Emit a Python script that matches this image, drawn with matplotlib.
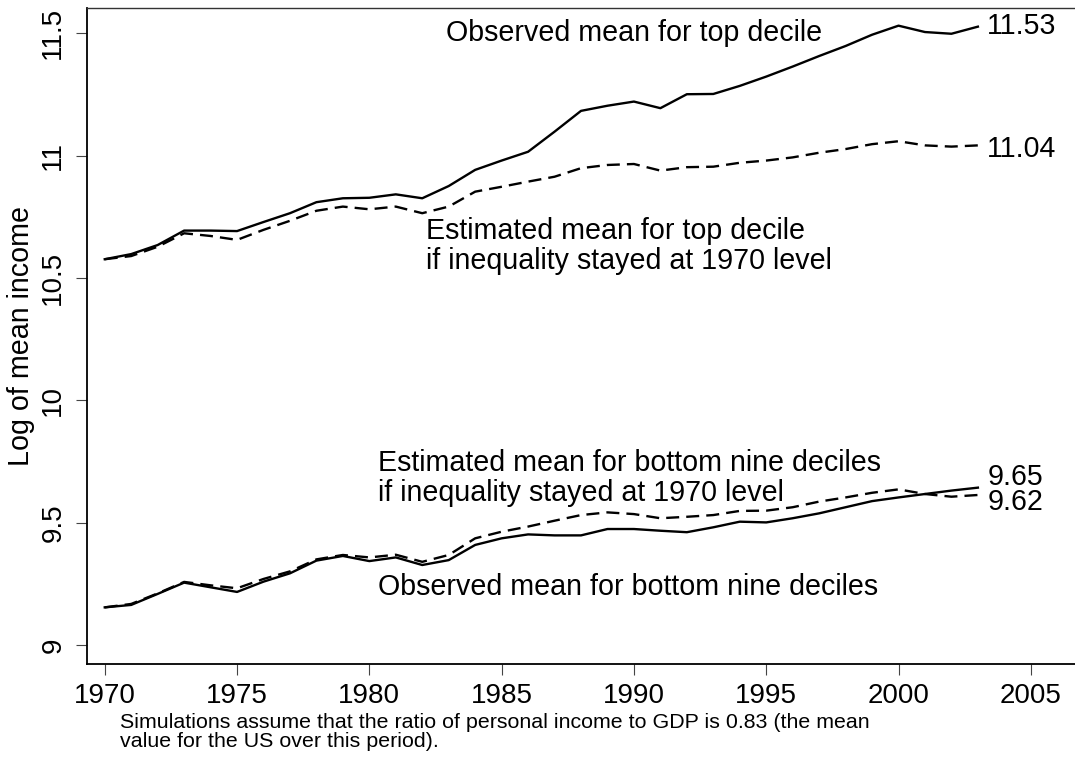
import matplotlib
matplotlib.use("Agg")
import matplotlib.pyplot as plt

plt.rcParams['font.family'] = ['Liberation Sans', 'DejaVu Sans']

years = list(range(1970, 2004))

top_observed = [10.577, 10.598, 10.635, 10.694, 10.694, 10.692, 10.729, 10.765, 10.810, 10.826,
                10.828, 10.842, 10.826, 10.876, 10.942, 10.980, 11.016, 11.098, 11.183, 11.204,
                11.221, 11.194, 11.251, 11.252, 11.285, 11.323, 11.364, 11.407, 11.448, 11.494,
                11.531, 11.505, 11.498, 11.527]
top_estimated = [10.577, 10.590, 10.628, 10.683, 10.672, 10.656, 10.697, 10.734, 10.775, 10.792,
                 10.781, 10.792, 10.765, 10.792, 10.853, 10.873, 10.894, 10.914, 10.949, 10.962,
                 10.966, 10.939, 10.953, 10.955, 10.971, 10.980, 10.993, 11.012, 11.027, 11.047,
                 11.059, 11.042, 11.037, 11.042]
bottom_observed = [9.155, 9.165, 9.210, 9.256, 9.237, 9.218, 9.260, 9.294, 9.346, 9.365,
                   9.344, 9.359, 9.328, 9.348, 9.410, 9.437, 9.453, 9.449, 9.449, 9.475,
                   9.475, 9.468, 9.462, 9.482, 9.505, 9.502, 9.519, 9.539, 9.564, 9.589,
                   9.604, 9.618, 9.632, 9.644]
bottom_estimated = [9.155, 9.169, 9.212, 9.259, 9.245, 9.233, 9.271, 9.302, 9.351, 9.369,
                    9.359, 9.370, 9.341, 9.369, 9.437, 9.464, 9.485, 9.509, 9.532, 9.543,
                    9.536, 9.519, 9.525, 9.532, 9.549, 9.550, 9.564, 9.587, 9.604, 9.623,
                    9.637, 9.618, 9.607, 9.614]

end_labels = ["11.53", "11.04", "9.65", "9.62"]
x_ticks = [1970, 1975, 1980, 1985, 1990, 1995, 2000, 2005]
y_ticks = [9, 9.5, 10, 10.5, 11, 11.5]
y_tick_labels = ["9", "9.5", "10", "10.5", "11", "11.5"]

fig = plt.figure(figsize=(10.75, 7.74), dpi=100)
ax = fig.add_axes([0.0807, 0.1421, 0.9193, 0.8476])

lw = 1.7
dash = (5.5, 3.0)
ax.plot(years, top_observed, color='black', lw=lw)
ax.plot(years, top_estimated, color='black', lw=lw, dashes=dash)
ax.plot(years, bottom_observed, color='black', lw=lw)
ax.plot(years, bottom_estimated, color='black', lw=lw, dashes=dash)

fs = 20.6
ax.text(1982.9, 11.50, "Observed mean for top decile", fontsize=fs, va='center', ha='left')
ax.text(1982.14, 10.632, "Estimated mean for top decile\nif inequality stayed at 1970 level",
        fontsize=fs, va='center', ha='left', linespacing=1.1)
ax.text(1980.33, 9.685, "Estimated mean for bottom nine deciles\nif inequality stayed at 1970 level",
        fontsize=fs, va='center', ha='left', linespacing=1.1)
ax.text(1980.33, 9.239, "Observed mean for bottom nine deciles", fontsize=fs, va='center', ha='left')

ax.text(2003.35, 11.53, end_labels[0], fontsize=fs, va='center', ha='left')
ax.text(2003.35, 11.028, end_labels[1], fontsize=fs, va='center', ha='left')
ax.text(2003.35, 9.689, end_labels[2], fontsize=fs, va='center', ha='left')
ax.text(2003.35, 9.587, end_labels[3], fontsize=fs, va='center', ha='left')

ax.set_xlim(1969.32, 2006.67)
ax.set_ylim(8.9236, 11.6033)
ax.set_xticks(x_ticks)
ax.set_xticklabels([str(t) for t in x_ticks], fontsize=20)
ax.set_yticks(y_ticks)
ax.set_yticklabels(y_tick_labels, fontsize=20, rotation=90, va='center')
ax.tick_params(axis='both', direction='out', length=7.7, width=0.8, color='#444444')
ax.tick_params(axis='x', pad=6)
ax.tick_params(axis='y', pad=7)

ax.spines['right'].set_visible(False)
for s in ['left', 'bottom']:
    ax.spines[s].set_linewidth(1.3)
ax.spines['top'].set_linewidth(1.0)
ax.spines['top'].set_color('#333333')

ax.set_ylabel("Log of mean income", fontsize=fs, labelpad=4)

fig.text(120 / 1075, 1 - 732 / 774,
         "Simulations assume that the ratio of personal income to GDP is 0.83 (the mean\nvalue for the US over this period).",
         fontsize=15.4, va='center', ha='left', linespacing=1.0)

fig.savefig("out.png", dpi=100)
